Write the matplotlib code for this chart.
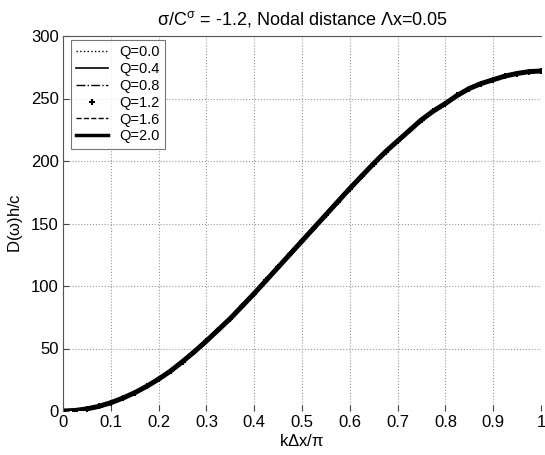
import numpy as np
import matplotlib
matplotlib.use("Agg")
import matplotlib.pyplot as plt

plt.rcParams['font.family'] = ['Liberation Sans', 'DejaVu Sans']
plt.rcParams['mathtext.default'] = 'regular'

# k*dx/pi samples and D(w)h/c (all Q curves coincide)
k_dx = [0.0, 0.025, 0.05, 0.075, 0.1, 0.125, 0.15, 0.175, 0.2, 0.225,
        0.25, 0.275, 0.3, 0.325, 0.35, 0.375, 0.4, 0.425, 0.45, 0.475,
        0.5, 0.525, 0.55, 0.575, 0.6, 0.625, 0.65, 0.675, 0.7, 0.725,
        0.75, 0.775, 0.8, 0.825, 0.85, 0.875, 0.9, 0.925, 0.95, 0.975, 1.0]
d_val = [0.0, 0.4, 1.7, 3.7, 6.6, 10.3, 14.6, 19.7, 25.5, 32.0,
         39.5, 47.5, 56.0, 65.0, 74.0, 84.0, 94.0, 104.5, 115.0, 125.5,
         136.0, 146.5, 157.0, 167.5, 178.0, 188.0, 198.0, 207.5, 216.0, 224.5,
         233.0, 240.0, 246.0, 252.5, 258.0, 262.0, 265.0, 268.0, 270.0, 271.5, 272.0]
q_labels = ['Q=0.0', 'Q=0.4', 'Q=0.8', 'Q=1.2', 'Q=1.6', 'Q=2.0']

fig = plt.figure(figsize=(5.45, 4.55), dpi=100)
ax = fig.add_axes([63/545, (455-411)/455, 478/545, 375/455])

styles = [dict(ls=':', lw=1.0),
          dict(ls='-', lw=1.2),
          dict(ls='-.', lw=1.0),
          dict(ls='none', marker='+', ms=5, mew=1.5),
          dict(ls='--', lw=1.0),
          dict(ls='-', lw=2.5)]

for lab, st in zip(q_labels, styles):
    ax.plot(k_dx, d_val, color='black', label=lab, **st)
# the dense '+' markers make the curve look heavy
ax.plot(k_dx, d_val, color='black', lw=3.6, solid_capstyle='round')

ax.set_xlim(0, 1)
ax.set_ylim(0, 300)
ax.set_xticks(np.arange(0, 1.01, 0.1))
ax.set_xticklabels(['0', '0.1', '0.2', '0.3', '0.4', '0.5', '0.6', '0.7', '0.8', '0.9', '1'])
ax.set_yticks(np.arange(0, 301, 50))
ax.tick_params(direction='in', labelsize=12, length=4, color='#444444', pad=3)
ax.grid(True, ls=':', color='#999999', lw=0.8)

for s in ['right', 'bottom']:
    ax.spines[s].set_visible(False)
for s in ['left', 'top']:
    ax.spines[s].set_color('#555555')
    ax.spines[s].set_linewidth(0.8)

ax.set_title(r'$\sigma$/C$^{\sigma}$ = -1.2, Nodal distance $\Lambda$x=0.05', fontsize=13, pad=8)
ax.set_xlabel(r'k$\Delta$x/$\pi$', fontsize=12, labelpad=2)
ax.set_ylabel(r'D($\omega$)h/c', fontsize=12, labelpad=4)

leg = ax.legend(loc='upper left', fontsize=10.5, handlelength=2.2, handletextpad=0.8,
                borderpad=0.35, labelspacing=0.2, fancybox=False,
                bbox_to_anchor=(0.016, 0.99), borderaxespad=0)
leg.get_frame().set_edgecolor('#555555')
leg.get_frame().set_linewidth(0.8)

fig.savefig('out.png', dpi=100)
